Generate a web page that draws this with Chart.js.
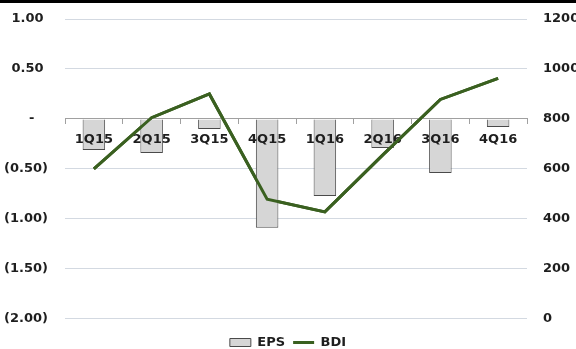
<!DOCTYPE html>
<html>
<head>
<meta charset="utf-8">
<script src="https://cdn.jsdelivr.net/npm/chart.js@4.4.1/dist/chart.umd.min.js"></script>
<style>
  html, body { margin: 0; padding: 0; background: #ffffff; overflow: hidden; }
  #wrap { position: relative; width: 576px; height: 349px; }
  #topband { position: absolute; left: 0; top: 0; width: 576px; height: 3px; background: #000; }
</style>
</head>
<body>
<div id="wrap">
  <canvas id="c" width="576" height="349"></canvas>
  <div id="topband"></div>
</div>
<script>
// ---- data ----
const categories = ['1Q15', '2Q15', '3Q15', '4Q15', '1Q16', '2Q16', '3Q16', '4Q16'];
const epsValues = [-0.31, -0.34, -0.10, -1.09, -0.77, -0.29, -0.54, -0.08];
const bdiValues = [600, 805, 900, 479, 428, 655, 878, 962];
const epsAxisTicks = [1.0, 0.5, 0, -0.5, -1.0, -1.5, -2.0];
const bdiAxisTicks = [1200, 1000, 800, 600, 400, 200, 0];

const FONT = { family: 'DejaVu Sans', size: 13, weight: 'bold' };
const TEXT = '#1e1e1e';

function fmtEps(v) {
  if (Math.abs(v) < 1e-9) return '-   ';
  if (v < 0) return '(' + Math.abs(v).toFixed(2) + ')';
  return v.toFixed(2) + ' ';
}

// redraw the BDI line on top of the x-axis labels (as in the reference)
const lineOnTop = {
  id: 'lineOnTop',
  afterDraw(chart) {
    const meta = chart.getDatasetMeta(1);
    chart.ctx.save();
    meta.controller.draw();
    chart.ctx.restore();
  }
};

function fitVertical(width) {
  return (s) => {
    s.width = width;
    s.paddingTop = 8;
    s.paddingBottom = 8;
  };
}

new Chart(document.getElementById('c'), {
  data: {
    labels: categories,
    datasets: [
      {
        type: 'bar',
        label: 'EPS',
        data: epsValues,
        yAxisID: 'y',
        backgroundColor: '#d6d6d6',
        borderColor: '#4a4a4a',
        borderWidth: 1,
        barPercentage: 0.39,
        categoryPercentage: 1.0,
        pointStyle: 'rect'
      },
      {
        type: 'line',
        label: 'BDI',
        data: bdiValues,
        yAxisID: 'y2',
        borderColor: '#3a6020',
        backgroundColor: '#3a6020',
        borderWidth: 3,
        pointRadius: 0,
        pointHoverRadius: 0,
        tension: 0,
        pointStyle: 'line'
      }
    ]
  },
  plugins: [lineOnTop],
  options: {
    responsive: false,
    animation: false,
    devicePixelRatio: 1,
    layout: { padding: { top: 19, left: 0, right: 0, bottom: -10 } },
    plugins: {
      tooltip: { enabled: false },
      legend: {
        position: 'bottom',
        title: { display: true, text: ' ', font: { size: 1 }, padding: { top: 8, bottom: 0 } },
        labels: {
          usePointStyle: true,
          pointStyleWidth: 21,
          boxWidth: 21,
          boxHeight: 8,
          padding: 8,
          color: TEXT,
          font: { family: 'DejaVu Sans', size: 13, weight: 'bold' },
          sort: (a, b) => a.datasetIndex - b.datasetIndex
        }
      }
    },
    scales: {
      x: {
        type: 'category',
        position: { y: 0 },
        grid: {
          display: true,
          drawOnChartArea: false,
          drawTicks: true,
          tickLength: 5,
          color: '#a0a0a0',
          offset: true,
          z: 1
        },
        border: { display: true, color: '#a0a0a0', width: 1, z: 1 },
        ticks: { color: TEXT, font: FONT, padding: 8, maxRotation: 0, autoSkip: false, z: 1 }
      },
      y: {
        type: 'linear',
        position: 'left',
        min: -2,
        max: 1,
        afterBuildTicks: (s) => { s.ticks = epsAxisTicks.map(v => ({ value: v })); },
        grid: { color: '#d3d9e1', drawTicks: false, lineWidth: 1 },
        border: { display: false },
        ticks: { color: TEXT, font: FONT, padding: 17, callback: (v) => fmtEps(v) },
        afterFit: fitVertical(65)
      },
      y2: {
        type: 'linear',
        position: 'right',
        min: 0,
        max: 1200,
        afterBuildTicks: (s) => { s.ticks = bdiAxisTicks.map(v => ({ value: v })); },
        grid: { drawOnChartArea: false, drawTicks: false },
        border: { display: false },
        ticks: { color: TEXT, font: FONT, padding: 16, callback: (v) => String(v) },
        afterFit: fitVertical(49)
      }
    }
  }
});
</script>
</body>
</html>
